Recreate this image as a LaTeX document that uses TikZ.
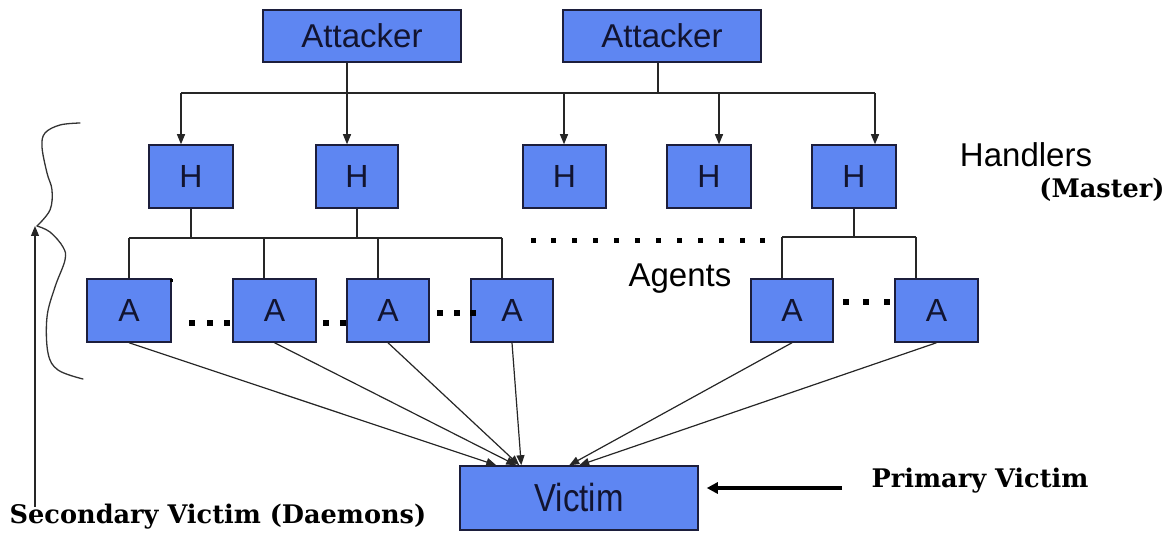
\documentclass[tikz,border=0pt]{standalone}
\usepackage{fontspec}
\setmainfont{Liberation Sans}
\newfontfamily\bserif{DejaVu Serif}
\usetikzlibrary{arrows.meta,calc}
\definecolor{boxblue}{RGB}{94,134,242}
\definecolor{boxline}{RGB}{28,30,60}
\definecolor{txtnavy}{RGB}{18,20,48}
\begin{document}
\begin{tikzpicture}[x=1pt,y=-1pt]
\tikzset{
  box/.style={draw=boxline, fill=boxblue, line width=1.5pt, minimum height=63pt,
    minimum width=83pt, inner sep=0pt, text=txtnavy, font=\fontsize{32}{32}\selectfont},
  conn/.style={draw=black!85, line width=1.2pt},
  arr/.style={conn, -{Triangle[length=10pt,width=8pt]}},
  bigarr/.style={draw=black, line width=3.5pt, -{Triangle[length=11pt,width=11pt]}},
  lbl/.style={inner sep=0pt, font=\fontsize{33}{33}\selectfont},
  slbl/.style={inner sep=0pt, font=\bserif\bfseries\fontsize{25.6}{25.6}\selectfont},
  sq/.style={fill=black}
}
\useasboundingbox (0,0) rectangle (1170,540);

% attackers
\node[box, minimum width=198pt, minimum height=52pt, font=\fontsize{33}{33}\selectfont] (att1) at (362,36) {Attacker};
\node[box, minimum width=198pt, minimum height=52pt, font=\fontsize{33}{33}\selectfont] (att2) at (662,36) {Attacker};

% handlers
\node[box, minimum width=84pt] (h1) at (191,176.5) {H};
\node[box, minimum width=82pt] (h2) at (357,176.5) {H};
\node[box, minimum width=83pt] (h3) at (564.5,176.5) {H};
\node[box, minimum width=84pt] (h4) at (709,176.5) {H};
\node[box, minimum width=84pt] (h5) at (854,176.5) {H};

% agents
\node[box, minimum width=84pt] (a1) at (129,310.5) {A};
\node[box] (a2) at (274.5,310.5) {A};
\node[box, minimum width=82pt] (a3) at (388,310.5) {A};
\node[box, minimum width=82pt] (a4) at (512,310.5) {A};
\node[box, minimum width=82pt] (a5) at (792,310.5) {A};
\node[box] (a6) at (936.5,310.5) {A};

% victim
\node[box, minimum width=238pt, minimum height=64pt, font=\fontsize{34}{34}\selectfont] (vic) at (579,498) {\scalebox{0.97}[1.15]{Victim}};

% labels
\node[lbl] (hl) at (1026,155) {Handlers};
\node[slbl] (ml) at (1102,190) {(Master)};
\node[lbl] (ag) at (680,279) {Agents};
\node[slbl] (pv) at (980,481) {Primary Victim};
\node[slbl] (sv) at (218,517) {Secondary Victim (Daemons)};

% attacker -> handlers bus
\coordinate (b1) at (181,93);
\coordinate (b2) at (347,93);
\coordinate (b3) at (564,93);
\coordinate (b4) at (719,93);
\coordinate (b5) at (875,93);
\coordinate (s2) at (658,93);
\draw[conn] (b1) -- (b5);
\draw[conn] (att2.south -| s2) -- (s2);
\draw[arr] (att1.south -| b2) -- (h2.north -| b2);
\draw[arr] (b1) -- (h1.north -| b1);
\draw[arr] (b3) -- (h3.north -| b3);
\draw[arr] (b4) -- (h4.north -| b4);
\draw[arr] (b5) -- (h5.north -| b5);

% handlers -> agents (left group)
\coordinate (l1) at (129,238);
\coordinate (l2) at (264,238);
\coordinate (l3) at (378,238);
\coordinate (l4) at (502,238);
\draw[conn] (l1) -- (l4);
\draw[conn] (h1.south) -- (h1.south |- l1);
\draw[conn] (h2.south) -- (h2.south |- l1);
\draw[conn] (l1) -- (a1.north -| l1);
\draw[conn] (l2) -- (a2.north -| l2);
\draw[conn] (l3) -- (a3.north -| l3);
\draw[conn] (l4) -- (a4.north -| l4);

% handlers -> agents (right group)
\coordinate (r1) at (782,237);
\coordinate (r2) at (916,237);
\draw[conn] (r1) -- (r2);
\draw[conn] (h5.south) -- (h5.south |- r1);
\draw[conn] (r1) -- (a5.north -| r1);
\draw[conn] (r2) -- (a6.north -| r2);

% dotted row between groups
\foreach \i in {0,...,11} {
  \fill[sq] ({533+20.9*\i-2.5},238.5) rectangle ++(5,5);
}
% dots between agents
\foreach \x/\y in {192/323,210/323,227/323,326/323,343/323,440/313,457/313,473/313,846/302,866/302,887/302} {
  \fill[sq] (\x-2.7,\y-2.7) rectangle ++(5.4,5.4);
}
\fill[sq] (169.5,278.5) rectangle ++(3,3);

% agents -> victim
\coordinate (v1) at ($(vic.north west)+(37,0)$);
\coordinate (v2) at ($(vic.north west)+(57,0)$);
\coordinate (v3) at ($(vic.north west)+(60,0)$);
\coordinate (v4) at ($(vic.north west)+(62,0)$);
\coordinate (v5) at ($(vic.north west)+(110,0)$);
\coordinate (v6) at ($(vic.north west)+(120,0)$);
\draw[arr] (a1.south) -- (v1);
\draw[arr] (a2.south) -- (v2);
\draw[arr] (a3.south) -- (v3);
\draw[arr] (a4.south) -- (v4);
\draw[arr] (a5.south) -- (v5);
\draw[arr] (a6.south) -- (v6);

% primary victim arrow
\coordinate (pvs) at (842,488);
\draw[bigarr] (pvs) -- ($(vic.east |- pvs)+(8,0)$);

% brace
\coordinate (cusp) at (37,226);
\draw[line width=1.3pt, black!80, line cap=round]
  plot[smooth, tension=0.6] coordinates {(80,123) (60,125) (45,133) (42,147) (47,173) (52,190) (50,210) (37,226)};
\draw[line width=1.3pt, black!80, line cap=round]
  plot[smooth, tension=0.6] coordinates {(37,226) (50,232) (63,247) (65,260) (55,287) (47,317) (48,353) (58,370) (83,379)};

% secondary victim arrow
\coordinate (svs) at (35,507);
\draw[arr] (svs) -- (svs |- cusp);
\end{tikzpicture}
\end{document}
